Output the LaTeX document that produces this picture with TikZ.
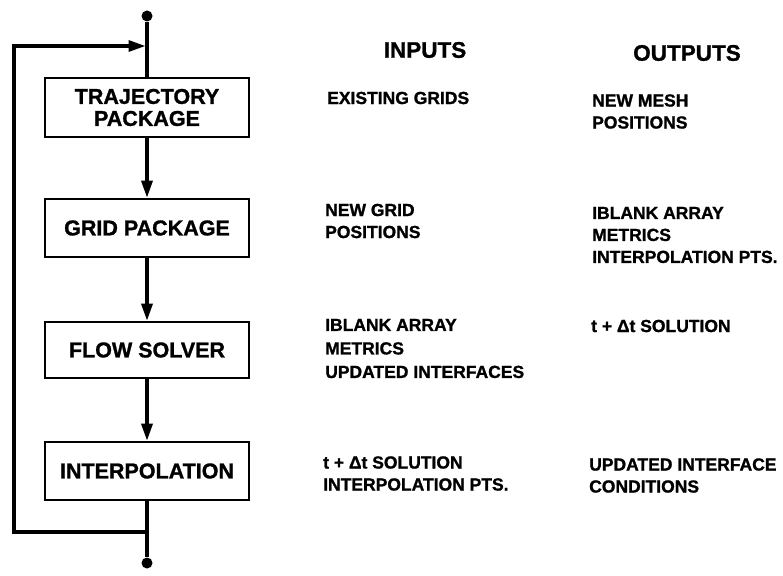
\documentclass[tikz,border=0pt]{standalone}
\usepackage{fontspec}
\setmainfont{Liberation Sans}[BoldFeatures={FakeBold=1.2}]
\usetikzlibrary{arrows.meta}
\begin{document}
\begin{tikzpicture}[x=1pt,y=-1pt,
  box/.style={draw,line width=2.6pt,minimum width=204pt,inner sep=0pt,align=center,
    font=\fontsize{21.5}{22}\selectfont\bfseries},
  conn/.style={line width=3.2pt,miter limit=10},
  arr/.style={-{Triangle[length=17pt,width=11pt]}},
  dotn/.style={circle,fill,inner sep=0pt,minimum size=11pt},
  hdr/.style={inner sep=0pt,font=\fontsize{22.5}{24}\selectfont\bfseries},
  txt/.style={inner sep=0pt,anchor=west,align=left,font=\fontsize{17.5}{22}\selectfont\bfseries},
  txtw/.style={txt,font=\fontsize{17.5}{23.5}\selectfont\bfseries}]
\useasboundingbox (0,0) rectangle (783,575);

% flow column
\node[dotn] (top) at (147,16) {};
\node[box,minimum height=59pt] (b1) at (147,107.5) {TRAJECTORY\\PACKAGE};
\node[box,minimum height=58pt] (b2) at (147,228) {GRID PACKAGE};
\node[box,minimum height=56pt] (b3) at (147,350) {FLOW SOLVER};
\node[box,minimum height=58pt] (b4) at (147,471) {INTERPOLATION};
\node[dotn] (bot) at (147,563) {};

\coordinate (j1) at (147,46);
\coordinate (tl) at (14,46);
\coordinate (bl) at (14,532);
\coordinate (j2) at (147,532);

\draw[conn] (top) -- (b1);
\draw[conn,arr] (b1) -- (b2);
\draw[conn,arr] (b2) -- (b3);
\draw[conn,arr] (b3) -- (b4);
\draw[conn] (b4) -- (bot);
\draw[conn,arr,shorten >=1.5pt] (j2) -- (bl) -- (tl) -- (j1);

% headers
\node[hdr] (hin) at (425,50) {INPUTS};
\node[hdr] (hout) at (687,53) {OUTPUTS};

% inputs
\node[txt] (in1) at (327,98) {EXISTING GRIDS};
\node[txt] (in2) at (325,221) {NEW GRID\\POSITIONS};
\node[txtw] (in3) at (325,348.5) {IBLANK ARRAY\\METRICS\\UPDATED INTERFACES};
\node[txt] (in4) at (323,473.5) {t + Δt SOLUTION\\INTERPOLATION PTS.};

% outputs
\node[txt] (out1) at (592,111.5) {NEW MESH\\POSITIONS};
\node[txt] (out2) at (592,235) {IBLANK ARRAY\\METRICS\\INTERPOLATION PTS.};
\node[txt] (out3) at (591,326) {t + Δt SOLUTION};
\node[txt] (out4) at (589,475.5) {UPDATED INTERFACE\\CONDITIONS};
\end{tikzpicture}
\end{document}
